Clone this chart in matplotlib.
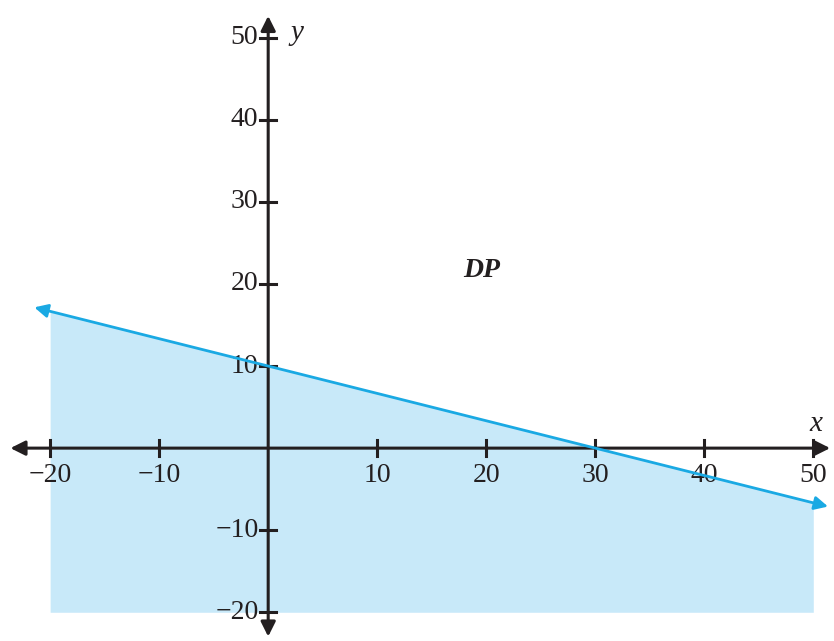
import numpy as np
import matplotlib.pyplot as plt
from matplotlib.patches import FancyArrowPatch

# constraint line x + 3y = 30  ->  y = 10 - x/3
line_x = np.array([-21.7, 51.6])
line_y = 10 - line_x / 3

# shaded region (below the line) limits
shade_x = np.array([-20, 50])
shade_bottom = -20

xticks = [-20, -10, 10, 20, 30, 40, 50]
yticks = [-20, -10, 10, 20, 30, 40, 50]

axis_col = "#231f20"
line_col = "#1aa9e3"
fill_col = "#c8e9f9"
font = "Liberation Serif"

fig = plt.figure(figsize=(8.34, 6.41), dpi=100)
ax = fig.add_axes([0, 0, 1, 1])
ax.set_xlim(-24.6, 51.9)
ax.set_ylim(-23.5, 54.6)
ax.axis("off")

# shaded region
xs = np.linspace(shade_x[0], shade_x[1], 50)
ax.fill_between(xs, shade_bottom, 10 - xs / 3, color=fill_col, lw=0, zorder=1)

# axes with arrows
ax.add_patch(FancyArrowPatch((-23.9, 0), (51.8, 0), arrowstyle="<|-|>",
                             mutation_scale=22, color=axis_col, lw=2.2, zorder=3))
ax.add_patch(FancyArrowPatch((0, -23.3), (0, 53.0), arrowstyle="<|-|>",
                             mutation_scale=22, color=axis_col, lw=2.2, zorder=3))

# tick marks and labels
for t in xticks:
    ax.plot([t, t], [-0.95, 0.95], color=axis_col, lw=2.2, zorder=3)
    ax.text(t, -1.8, str(t).replace("-", "\u2212"), ha="center", va="top",
            fontsize=20, family=font, color=axis_col)
for t in yticks:
    ax.plot([-0.75, 0.75], [t, t], color=axis_col, lw=2.2, zorder=3)
    ax.text(-0.9, t, str(t).replace("-", "\u2212"), ha="right", va="center",
            fontsize=20, family=font, color=axis_col)

ax.text(50.2, 3.0, "x", fontsize=21, style="italic", family=font,
        ha="center", va="center", color=axis_col)
ax.text(2.6, 50.6, "y", fontsize=21, style="italic", family=font,
        ha="center", va="center", color=axis_col)

# constraint line with arrows
ax.add_patch(FancyArrowPatch((line_x[0], line_y[0]), (line_x[1], line_y[1]),
                             arrowstyle="<|-|>", mutation_scale=20,
                             color=line_col, lw=2, zorder=4))

ax.text(19.6, 21.7, "DP", fontsize=20, style="italic", weight="bold",
        family=font, ha="center", va="center", color=axis_col)

fig.savefig("out.png", dpi=100)
